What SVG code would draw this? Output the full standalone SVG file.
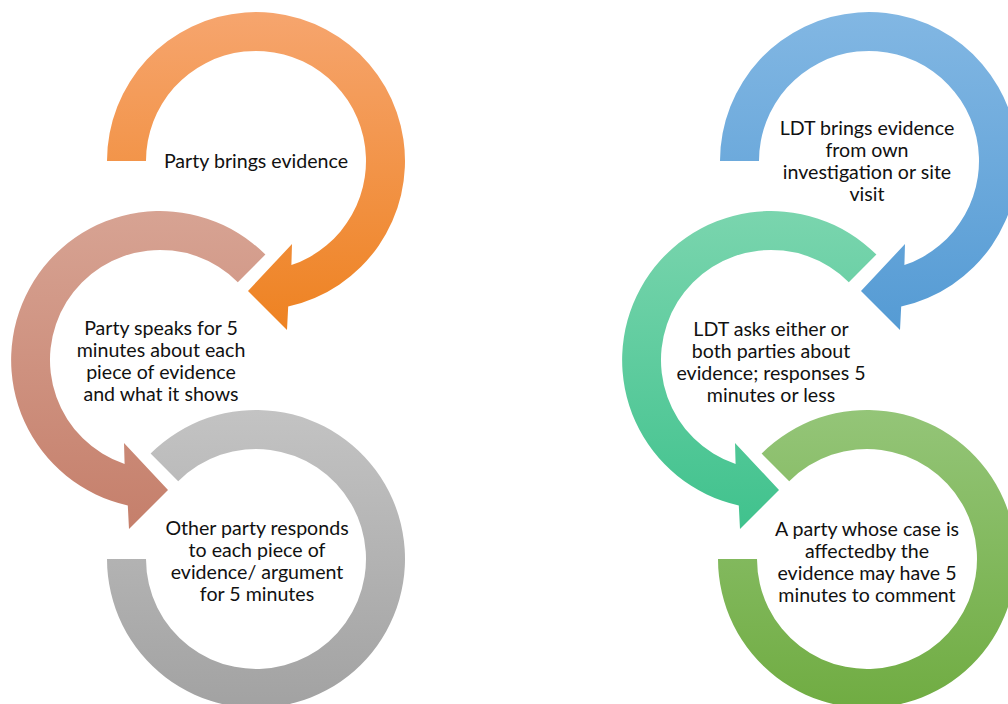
<svg xmlns="http://www.w3.org/2000/svg" width="1008" height="704" viewBox="0 0 1008 704">
<defs>
<linearGradient id="gOrange" x1="0" y1="0" x2="0" y2="1"><stop offset="0" stop-color="#F6A56E"/><stop offset="1" stop-color="#EE8221"/></linearGradient>
<linearGradient id="gPink" x1="0" y1="0" x2="0" y2="1"><stop offset="0" stop-color="#D7A393"/><stop offset="1" stop-color="#C57F6B"/></linearGradient>
<linearGradient id="gGray" x1="0" y1="0" x2="0" y2="1"><stop offset="0" stop-color="#C3C3C3"/><stop offset="1" stop-color="#A2A2A2"/></linearGradient>
<linearGradient id="gBlue" x1="0" y1="0" x2="0" y2="1"><stop offset="0" stop-color="#82B7E3"/><stop offset="1" stop-color="#559BD4"/></linearGradient>
<linearGradient id="gTeal" x1="0" y1="0" x2="0" y2="1"><stop offset="0" stop-color="#7AD5AE"/><stop offset="1" stop-color="#40C28D"/></linearGradient>
<linearGradient id="gGreen" x1="0" y1="0" x2="0" y2="1"><stop offset="0" stop-color="#94C578"/><stop offset="1" stop-color="#70AC42"/></linearGradient>
</defs>
<style>
text{font-family:Lato,"Liberation Sans",sans-serif;font-size:19.6px;fill:#111;text-anchor:middle}
</style>
<rect width="1008" height="704" fill="#fff"/>
<g id="connectors">
<path d="M107,161 A149,149 0 1 1 288.2,306.5 L287,330 L248,291 L292,244 L291.4,265.1 A110,110 0 1 0 146,161 Z" fill="url(#gOrange)"/>
<path d="M265.4,254.6 A149,149 0 1 0 127.8,505.5 L129,529 L168,490 L124,443 L124.6,464.1 A110,110 0 1 1 237.8,282.2 Z" fill="url(#gPink)"/>
<path d="M150.6,453.6 A149,149 0 1 1 107,559 L146,559 A110,110 0 1 0 178.2,481.2 Z" fill="url(#gGray)"/>
<path d="M720,161 A149,149 0 1 1 901.2,306.5 L900,330 L861,291 L905,244 L904.4,265.1 A110,110 0 1 0 759,161 Z" fill="url(#gBlue)"/>
<path d="M876.4,254.6 A149,149 0 1 0 738.8,505.5 L740,529 L779,490 L735,443 L735.6,464.1 A110,110 0 1 1 848.8,282.2 Z" fill="url(#gTeal)"/>
<path d="M761.6,453.6 A149,149 0 1 1 718,559 L757,559 A110,110 0 1 0 789.2,481.2 Z" fill="url(#gGreen)"/>
</g>
<g id="node-party-brings">
<text x="256" y="168">Party brings evidence</text>
</g>
<g id="node-party-speaks">
<text x="161" y="335">Party speaks for 5</text>
<text x="161" y="357">minutes about each</text>
<text x="161" y="379">piece of evidence</text>
<text x="161" y="401">and what it shows</text>
</g>
<g id="node-other-party">
<text x="257" y="535">Other party responds</text>
<text x="257" y="557">to each piece of</text>
<text x="257" y="579">evidence/ argument</text>
<text x="257" y="601">for 5 minutes</text>
</g>
<g id="node-ldt-brings">
<text x="867" y="135">LDT brings evidence</text>
<text x="867" y="157">from own</text>
<text x="867" y="179">investigation or site</text>
<text x="867" y="201">visit</text>
</g>
<g id="node-ldt-asks">
<text x="771" y="336">LDT asks either or</text>
<text x="771" y="358">both parties about</text>
<text x="771" y="380">evidence; responses 5</text>
<text x="771" y="402">minutes or less</text>
</g>
<g id="node-party-affected">
<text x="867" y="536">A party whose case is</text>
<text x="867" y="558">affectedby the</text>
<text x="867" y="580">evidence may have 5</text>
<text x="867" y="602">minutes to comment</text>
</g>
</svg>
